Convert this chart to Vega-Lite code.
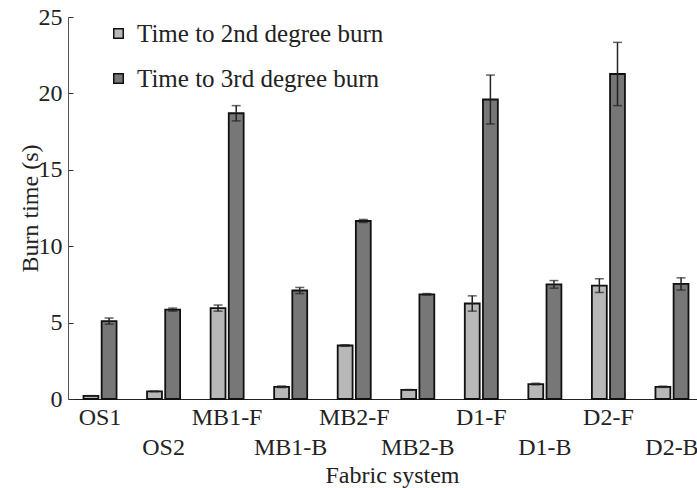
{
  "$schema": "https://vega.github.io/schema/vega-lite/v6.json",
  "width": 629,
  "height": 382,
  "autosize": {"type": "none"},
  "padding": {"left": 68, "top": 17, "right": 0, "bottom": 89},
  "background": "white",
  "config": {
    "view": {"stroke": null},
    "font": "Liberation Serif",
    "axis": {"labelFont": "Liberation Serif", "titleFont": "Liberation Serif", "labelFontSize": 24, "titleFontSize": 24, "titleFontWeight": "normal", "labelColor": "#222", "titleColor": "#222", "grid": false},
    "legend": {"labelFont": "Liberation Serif", "labelFontSize": 25, "labelColor": "#222", "labelLimit": 500}
  },
  "data": {
    "values": [
      {"system": "OS1", "burn": "Time to 2nd degree burn", "time": 0.2, "lo": 0.18, "hi": 0.22},
      {"system": "OS1", "burn": "Time to 3rd degree burn", "time": 5.1, "lo": 4.9, "hi": 5.3},
      {"system": "OS2", "burn": "Time to 2nd degree burn", "time": 0.5, "lo": 0.48, "hi": 0.52},
      {"system": "OS2", "burn": "Time to 3rd degree burn", "time": 5.85, "lo": 5.75, "hi": 5.95},
      {"system": "MB1-F", "burn": "Time to 2nd degree burn", "time": 5.95, "lo": 5.75, "hi": 6.15},
      {"system": "MB1-F", "burn": "Time to 3rd degree burn", "time": 18.7, "lo": 18.2, "hi": 19.2},
      {"system": "MB1-B", "burn": "Time to 2nd degree burn", "time": 0.8, "lo": 0.75, "hi": 0.85},
      {"system": "MB1-B", "burn": "Time to 3rd degree burn", "time": 7.1, "lo": 6.9, "hi": 7.3},
      {"system": "MB2-F", "burn": "Time to 2nd degree burn", "time": 3.5, "lo": 3.45, "hi": 3.55},
      {"system": "MB2-F", "burn": "Time to 3rd degree burn", "time": 11.65, "lo": 11.55, "hi": 11.75},
      {"system": "MB2-B", "burn": "Time to 2nd degree burn", "time": 0.6, "lo": 0.58, "hi": 0.62},
      {"system": "MB2-B", "burn": "Time to 3rd degree burn", "time": 6.85, "lo": 6.8, "hi": 6.9},
      {"system": "D1-F", "burn": "Time to 2nd degree burn", "time": 6.25, "lo": 5.75, "hi": 6.75},
      {"system": "D1-F", "burn": "Time to 3rd degree burn", "time": 19.6, "lo": 18.0, "hi": 21.2},
      {"system": "D1-B", "burn": "Time to 2nd degree burn", "time": 0.98, "lo": 0.93, "hi": 1.03},
      {"system": "D1-B", "burn": "Time to 3rd degree burn", "time": 7.5, "lo": 7.25, "hi": 7.75},
      {"system": "D2-F", "burn": "Time to 2nd degree burn", "time": 7.42, "lo": 6.97, "hi": 7.87},
      {"system": "D2-F", "burn": "Time to 3rd degree burn", "time": 21.27, "lo": 19.2, "hi": 23.34},
      {"system": "D2-B", "burn": "Time to 2nd degree burn", "time": 0.8, "lo": 0.76, "hi": 0.84},
      {"system": "D2-B", "burn": "Time to 3rd degree burn", "time": 7.53, "lo": 7.13, "hi": 7.93}
    ]
  },
  "encoding": {
    "x": {
      "field": "system", "type": "nominal", "sort": null,
      "scale": {"range": [0, 636], "paddingInner": 0.48, "paddingOuter": 0.244},
      "axis": {
        "title": "Fabric system", "labelAngle": 0, "ticks": false,
        "labelPadding": {"condition": {"test": "indexof(['OS2','MB1-B','MB2-B','D1-B','D2-B'], datum.value) >= 0", "value": 36}, "value": 6},
        "labelOverlap": false, "domainColor": "#222", "domainWidth": 1.2,
        "titlePadding": 4,
        "titleX": 324
      }
    },
    "xOffset": {"field": "burn", "type": "nominal", "scale": {"paddingInner": 0.18, "paddingOuter": 0}}
  },
  "layer": [
    {
      "mark": {"type": "bar", "stroke": "#111", "strokeWidth": 1.8},
      "encoding": {
        "y": {
          "field": "time", "type": "quantitative",
          "scale": {"domain": [0, 25], "nice": false},
          "axis": {"title": "Burn time (s)", "values": [0, 5, 10, 15, 20, 25], "tickSize": -5, "labelPadding": 11, "domainColor": "#555", "tickColor": "#333", "titlePadding": -4}
        },
        "fill": {
          "field": "burn", "type": "nominal",
          "scale": {"domain": ["Time to 2nd degree burn", "Time to 3rd degree burn"], "range": ["#b8b8b8", "#777777"]},
          "legend": {
            "title": null, "orient": "none", "legendX": 38, "legendY": 4,
            "symbolType": "square", "symbolSize": 90, "symbolStrokeColor": "#111", "symbolStrokeWidth": 1.5,
            "labelOffset": 6, "rowPadding": 19, "padding": 0
          }
        }
      }
    },
    {
      "mark": {"type": "rule", "color": "#222", "strokeWidth": 1.5},
      "encoding": {"y": {"field": "lo", "type": "quantitative"}, "y2": {"field": "hi"}}
    },
    {
      "mark": {"type": "tick", "color": "#222", "size": 9, "thickness": 1.5},
      "encoding": {"y": {"field": "hi", "type": "quantitative"}}
    },
    {
      "mark": {"type": "tick", "color": "#222", "size": 9, "thickness": 1.5},
      "encoding": {"y": {"field": "lo", "type": "quantitative"}}
    }
  ]
}
